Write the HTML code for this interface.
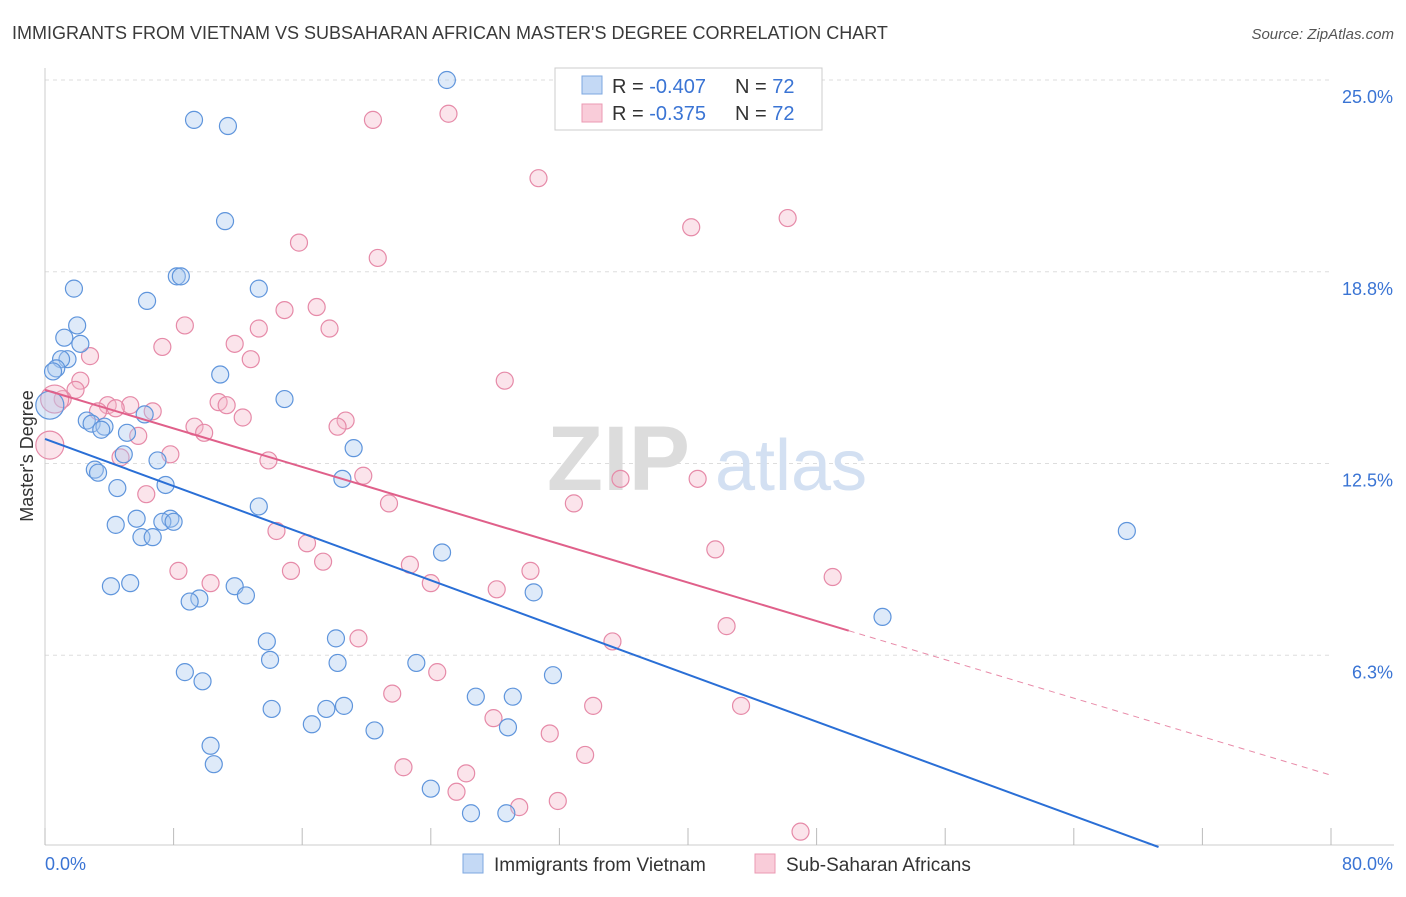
<!DOCTYPE html>
<html><head><meta charset="utf-8"><style>
body{margin:0;background:#fff;font-family:"Liberation Sans",sans-serif;}
svg text{font-family:"Liberation Sans",sans-serif;}
</style></head><body>
<svg width="1406" height="892" xmlns="http://www.w3.org/2000/svg">
<text x="12" y="39" font-size="18" fill="#3a3a3a">IMMIGRANTS FROM VIETNAM VS SUBSAHARAN AFRICAN MASTER'S DEGREE CORRELATION CHART</text>
<text x="1394" y="39" font-size="15" fill="#555" font-style="italic" text-anchor="end">Source: ZipAtlas.com</text>
<g id="grid"></g>
<g id="axes"></g>
<text x="690" y="490" font-size="92" fill="#dcdcdc" font-weight="bold" text-anchor="end" font-family="Liberation Serif">ZIP</text>
<text x="715" y="490" font-size="72" fill="#d3e0f2">atlas</text>
<g id="pts"></g>
<g id="lines"></g>
<text transform="translate(33,456) rotate(-90)" font-size="18" fill="#333" text-anchor="middle">Master's Degree</text>
<g>
<rect x="555" y="68" width="267" height="62" fill="#fff" stroke="#ccc"/>
<rect x="582" y="76" width="20" height="18" fill="#c4d9f5" stroke="#7da7e0"/>
<rect x="582" y="104" width="20" height="18" fill="#f9ccd9" stroke="#eb9ab3"/>
<text x="612" y="93" font-size="20" fill="#333">R = <tspan fill="#3a74d4">-0.407</tspan><tspan x="735">N = </tspan><tspan fill="#3a74d4">72</tspan></text>
<text x="612" y="120" font-size="20" fill="#333">R = <tspan fill="#3a74d4"> -0.375</tspan><tspan x="735">N = </tspan><tspan fill="#3a74d4">72</tspan></text>
</g>
<g>
<rect x="463" y="854" width="20" height="19" fill="#c4d9f5" stroke="#7da7e0"/>
<text x="494" y="871" font-size="19" fill="#333">Immigrants from Vietnam</text>
<rect x="755" y="854" width="20" height="19" fill="#f9ccd9" stroke="#eb9ab3"/>
<text x="786" y="871" font-size="19" fill="#333">Sub-Saharan Africans</text>
</g>
</svg>
<script>
const xTicks=[0,8,16,24,32,40,48,56,64,72,80];
const yTicks=[6.25,12.5,18.75,25];
const yTickLabels=["6.3%","12.5%","18.8%","25.0%"];
const xAxisLabels=["0.0%","80.0%"];
const blueX=[25.0,9.27,11.38,11.2,8.2,8.45,1.8,13.3,6.35,2.0,1.2,2.2,1.4,1.0,0.7,0.5,0.3,10.9,14.9,6.2,2.6,2.9,3.7,3.5,5.1,19.2,4.9,7.0,3.1,3.3,18.5,4.5,7.5,13.3,67.3,5.7,7.8,4.4,7.3,8.0,6.0,6.7,24.7,5.3,4.1,11.8,12.5,9.6,9.0,30.4,52.1,13.8,18.1,14.0,18.2,23.1,31.6,8.7,9.8,26.8,29.1,14.1,17.5,18.6,16.6,28.8,20.5,10.3,10.5,24.0,26.5,28.7];
const blueY=[25.0,23.7,23.5,20.4,18.6,18.6,18.2,18.2,17.8,17.0,16.6,16.4,15.9,15.9,15.6,15.5,14.4,15.4,14.6,14.1,13.9,13.8,13.7,13.6,13.5,13.0,12.8,12.6,12.3,12.2,12.0,11.7,11.8,11.1,10.3,10.7,10.7,10.5,10.6,10.6,10.1,10.1,9.6,8.6,8.5,8.5,8.2,8.1,8.0,8.3,7.5,6.7,6.8,6.1,6.0,6.0,5.6,5.7,5.4,4.9,4.9,4.5,4.5,4.6,4.0,3.9,3.8,3.3,2.7,1.9,1.1,1.1];
const pinkX=[25.1,20.4,30.7,46.2,40.2,15.8,20.7,14.9,16.9,8.7,13.3,17.7,11.8,7.3,2.8,12.8,2.2,28.6,1.9,1.1,0.6,10.8,5.3,3.9,11.3,4.4,3.3,6.7,12.3,18.7,9.3,18.2,9.9,5.8,0.3,7.8,4.7,13.9,19.8,35.8,40.6,6.3,32.9,21.4,14.4,16.3,41.7,17.3,22.7,15.3,30.2,8.3,49.0,24.0,10.3,28.1,42.4,35.3,19.5,24.4,21.6,43.3,34.1,27.9,31.4,33.6,22.3,26.2,25.6,29.5,31.9,47.0];
const pinkY=[23.9,23.7,21.8,20.5,20.2,19.7,19.2,17.5,17.6,17.0,16.9,16.9,16.4,16.3,16.0,15.9,15.2,15.2,14.9,14.6,14.6,14.5,14.4,14.4,14.4,14.3,14.2,14.2,14.0,13.9,13.7,13.7,13.5,13.4,13.1,12.8,12.7,12.6,12.1,12.0,12.0,11.5,11.2,11.2,10.3,9.9,9.7,9.3,9.2,9.0,9.0,9.0,8.8,8.6,8.6,8.4,7.2,6.7,6.8,5.7,5.0,4.6,4.6,4.2,3.7,3.0,2.6,2.4,1.8,1.3,1.5,0.5];
const blueTrend=[13.3,-0.192];
const pinkTrend=[14.9,-0.157];
const pinkSolidEnd=50;

const NS="http://www.w3.org/2000/svg";
const X=v=>45+v*(1286/80);
const Y=v=>847-v*30.68;
function mk(tag,attrs,parent){const e=document.createElementNS(NS,tag);for(const k in attrs)e.setAttribute(k,attrs[k]);parent.appendChild(e);return e;}
const grid=document.getElementById('grid'),axes=document.getElementById('axes'),pts=document.getElementById('pts'),lines=document.getElementById('lines');
yTicks.forEach((t,i)=>{
 const l=mk('line',{x1:45,x2:1331,y1:Y(t),y2:Y(t),stroke:'#ddd','stroke-dasharray':'4,4'},grid);
 
 
 const tx=mk('text',{x:1393,y:Y(t)+23,'font-size':18,fill:'#3a74d4','text-anchor':'end'},axes);
 tx.textContent=yTickLabels[i];
 
 
});
const al=mk('line',{x1:45,x2:45,y1:68,y2:845,stroke:'#ccc'},axes);


const bl=mk('line',{x1:45,x2:1394,y1:845,y2:845,stroke:'#ccc'},axes);


xTicks.forEach(t=>{
 const l=mk('line',{x1:X(t),x2:X(t),y1:828,y2:845,stroke:'#bbb'},axes);
 
 
});
const xl0=mk('text',{x:45,y:870,'font-size':18,fill:'#3a74d4'},axes);xl0.textContent=xAxisLabels[0];


const xl1=mk('text',{x:1393,y:870,'font-size':18,fill:'#3a74d4','text-anchor':'end'},axes);xl1.textContent=xAxisLabels[1];


function dots(xs,ys,fill,stroke,name,bigLim){xs.forEach((x,i)=>{
 const r=x<bigLim?14:8.5;
 const c=mk('circle',{cx:X(x),cy:Y(ys[i]),r:r,fill:fill,'fill-opacity':0.38,stroke:stroke,'stroke-width':1.2},pts);
 
 
});}
dots(pinkX,pinkY,'#f5b8ca','#e68aa8','point-subsaharan',0.65);
dots(blueX,blueY,'#a9c7f0','#5f95dc','point-vietnam',0.4);
const bEnd=-blueTrend[0]/blueTrend[1];
const b=mk('line',{x1:X(0),y1:Y(blueTrend[0]),x2:X(bEnd),y2:Y(0),stroke:'#2a6fd6','stroke-width':2},lines);


const p=mk('line',{x1:X(0),y1:Y(pinkTrend[0]),x2:X(pinkSolidEnd),y2:Y(pinkTrend[0]+pinkTrend[1]*pinkSolidEnd),stroke:'#e0608a','stroke-width':2},lines);


const pd=mk('line',{x1:X(pinkSolidEnd),y1:Y(pinkTrend[0]+pinkTrend[1]*pinkSolidEnd),x2:X(80),y2:Y(pinkTrend[0]+pinkTrend[1]*80),stroke:'#e88aa8','stroke-width':1,'stroke-dasharray':'6,5'},lines);


</script>
</body></html>
